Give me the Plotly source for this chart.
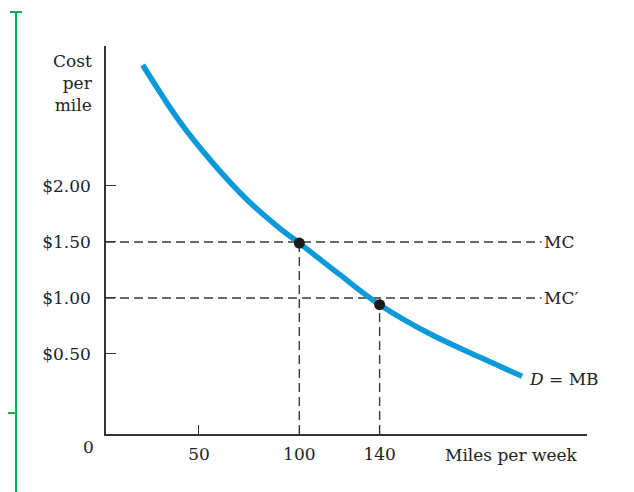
import plotly.graph_objects as go

# ---- data ----
curve_x = [22, 40.6, 57.2, 73.8, 90.4, 100, 120, 140, 165, 190, 211]
curve_y = [3.08, 2.57, 2.20, 1.88, 1.62, 1.49, 1.21, 0.94, 0.68, 0.47, 0.30]
point_x = [100, 140]
point_y = [1.49, 0.94]
mc_levels = [1.50, 1.00]
mc_labels = ["MC", "MC′"]
mc_end_x = 220.7
x_ticks = [50, 100, 140]
x_ticklabels = ["50", "100", "140"]
y_ticks = [0.5, 1.0, 1.5, 2.0]
y_ticklabels = ["$0.50", "$1.00", "$1.50", "$2.00"]
curve_label = "<i>D</i> = MB"
x_title = "Miles per week"
y_title = "Cost<br>per<br>mile"

X_MIN, X_MAX = 3.7, 243.3
Y_MIN, Y_MAX = -0.215, 3.25

FONT = "DejaVu Serif"
FS = 17
TXT = "#222222"
DASH_COL = "#3a3a3a"
BLUE = "#0a9ad9"
GREEN = "#00b050"

fig = go.Figure()

# dashed guide lines
for lvl in mc_levels:
    fig.add_trace(go.Scatter(x=[X_MIN, mc_end_x], y=[lvl, lvl], mode="lines",
                             line=dict(color=DASH_COL, width=1.4, dash="9px,5px"),
                             hoverinfo="skip", showlegend=False))
for px_, lvl in zip(point_x, mc_levels):
    fig.add_trace(go.Scatter(x=[px_, px_], y=[Y_MIN, lvl], mode="lines",
                             line=dict(color=DASH_COL, width=1.4, dash="9px,5px"),
                             hoverinfo="skip", showlegend=False))

# demand curve
fig.add_trace(go.Scatter(x=curve_x, y=curve_y, mode="lines",
                         line=dict(color=BLUE, width=5.5, shape="spline", smoothing=1.0),
                         hoverinfo="skip", showlegend=False))
# points
fig.add_trace(go.Scatter(x=point_x, y=point_y, mode="markers",
                         marker=dict(color="#1a1a1a", size=11),
                         hoverinfo="skip", showlegend=False))

annotations = []
for lvl, lab in zip(mc_levels, mc_labels):
    annotations.append(dict(x=mc_end_x, y=lvl, xref="x", yref="y", text=lab,
                            xanchor="left", yanchor="middle", xshift=0, showarrow=False,
                            font=dict(family=FONT, size=FS, color=TXT)))
annotations.append(dict(x=curve_x[-1], y=curve_y[-1], xref="x", yref="y", text=curve_label,
                        xanchor="left", yanchor="middle", xshift=5, yshift=-3, showarrow=False,
                        font=dict(family=FONT, size=FS, color=TXT)))
annotations.append(dict(x=171.6, y=Y_MIN, xref="x", yref="y", text=x_title,
                        xanchor="left", yanchor="middle", yshift=-21, showarrow=False,
                        font=dict(family=FONT, size=FS, color=TXT)))
annotations.append(dict(x=-0.022, y=0.905, xref="paper", yref="paper", text=y_title,
                        xanchor="right", yanchor="middle", align="right", showarrow=False,
                        font=dict(family=FONT, size=FS, color=TXT)))
annotations.append(dict(x=-0.036, y=-0.0335, xref="paper", yref="paper", text="0",
                        xanchor="center", yanchor="middle", showarrow=False,
                        font=dict(family=FONT, size=FS, color=TXT)))

shapes = [
    dict(type="line", xref="paper", yref="paper", x0=-0.187, x1=-0.187, y0=1.0876, y1=-0.2,
         line=dict(color=GREEN, width=2)),
    dict(type="line", xref="paper", yref="paper", x0=-0.1996, x1=-0.1746, y0=1.0876, y1=1.0876,
         line=dict(color=GREEN, width=2)),
    dict(type="line", xref="paper", yref="paper", x0=-0.23, x1=-0.187, y0=0.054, y1=0.054,
         line=dict(color=GREEN, width=2)),
]

fig.update_layout(
    width=634, height=492,
    margin=dict(l=98, r=55, t=38, b=66),
    paper_bgcolor="white", plot_bgcolor="white",
    annotations=annotations, shapes=shapes,
    xaxis=dict(range=[X_MIN, X_MAX], showgrid=False, zeroline=False,
               showline=True, linecolor="#333333", linewidth=1.5,
               tickvals=x_ticks, ticktext=x_ticklabels, ticks="inside", ticklen=9,
               tickcolor="#333333", tickwidth=1.3, ticklabelstandoff=4,
               tickfont=dict(family=FONT, size=FS, color=TXT)),
    yaxis=dict(range=[Y_MIN, Y_MAX], showgrid=False, zeroline=False,
               showline=True, linecolor="#333333", linewidth=1.5,
               tickvals=y_ticks, ticktext=y_ticklabels, ticks="inside", ticklen=10,
               tickcolor="#333333", tickwidth=1.3, ticklabelstandoff=10,
               tickfont=dict(family=FONT, size=FS, color=TXT)),
)

fig.write_html("out.html")
